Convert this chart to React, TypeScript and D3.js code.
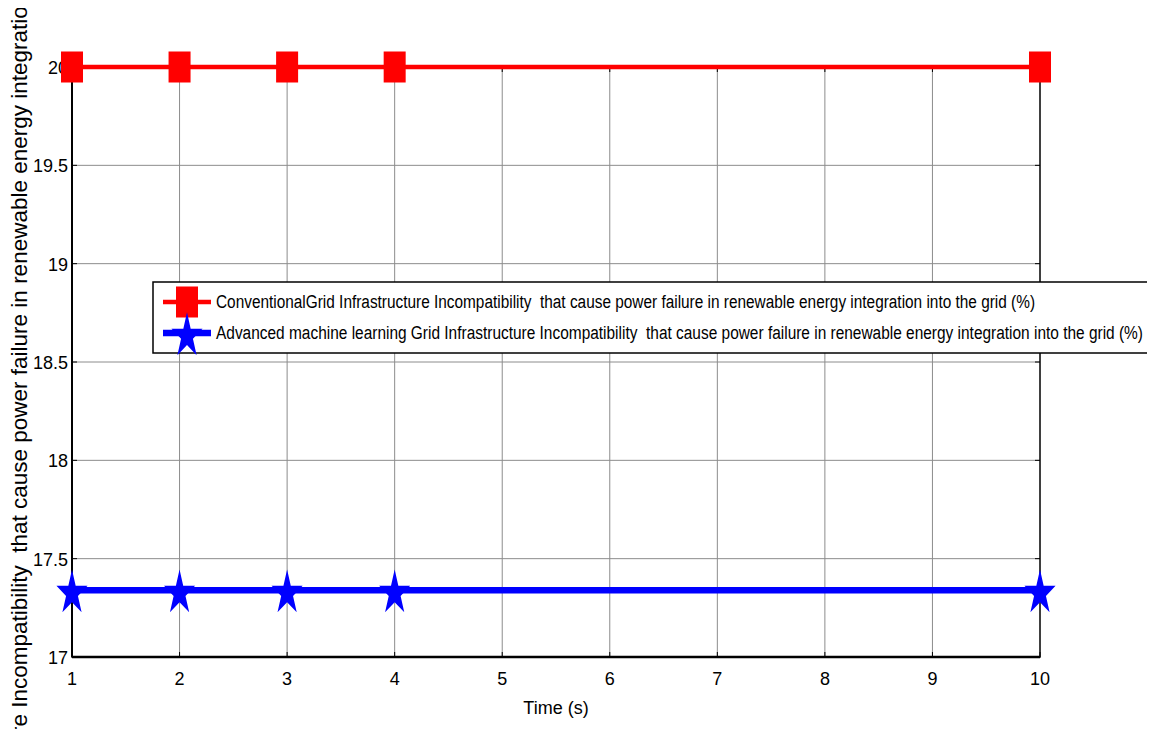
import React, { useEffect, useRef } from "react";
import * as d3 from "d3";

const xTimes = [1, 2, 3, 4, 10];
const conventional = [20, 20, 20, 20, 20];
const advanced = [17.34, 17.34, 17.34, 17.34, 17.34];
const xTicks = [1, 2, 3, 4, 5, 6, 7, 8, 9, 10];
const yTicks = [17, 17.5, 18, 18.5, 19, 19.5, 20];

const legendLabels = [
  "ConventionalGrid Infrastructure Incompatibility  that cause power failure in renewable energy integration into the grid (%)",
  "Advanced machine learning Grid Infrastructure Incompatibility  that cause power failure in renewable energy integration into the grid (%)",
];
const yLabel =
  "Grid Infrastructure Incompatibility  that cause power failure in renewable energy integration into the grid (%)";

const W = 1155;
const H = 737;
const narrow = "'Liberation Sans Narrow', 'Arial Narrow', 'Liberation Sans', Arial, sans-serif";

export default function App() {
  const ref = useRef<SVGSVGElement>(null);

  useEffect(() => {
    const svg = d3.select(ref.current);
    svg.selectAll("*").remove();

    const left = 72, right = 1040, top = 67, bottom = 657;
    const x = d3.scaleLinear().domain([1, 10]).range([left, right]);
    const y = d3.scaleLinear().domain([17, 20]).range([bottom, top]);

    // grid
    const grid = svg.append("g").attr("stroke", "#8c8c8c").attr("stroke-width", 1);
    xTicks.slice(1, -1).forEach((t) => {
      grid.append("line").attr("x1", x(t)).attr("x2", x(t)).attr("y1", top).attr("y2", bottom);
    });
    yTicks.slice(1, -1).forEach((t) => {
      grid.append("line").attr("x1", left).attr("x2", right).attr("y1", y(t)).attr("y2", y(t));
    });

    // axes box
    svg.append("rect")
      .attr("x", left).attr("y", top)
      .attr("width", right - left).attr("height", bottom - top)
      .attr("fill", "none").attr("stroke", "#000").attr("stroke-width", 1.5);
    svg.append("line").attr("x1", left).attr("x2", right).attr("y1", bottom).attr("y2", bottom)
      .attr("stroke", "#000").attr("stroke-width", 2.5);
    svg.append("line").attr("x1", left).attr("x2", left).attr("y1", top).attr("y2", bottom)
      .attr("stroke", "#000").attr("stroke-width", 2);

    // small inner ticks
    const tk = svg.append("g").attr("stroke", "#000").attr("stroke-width", 1);
    xTicks.forEach((t) => {
      tk.append("line").attr("x1", x(t)).attr("x2", x(t)).attr("y1", bottom).attr("y2", bottom - 5);
      tk.append("line").attr("x1", x(t)).attr("x2", x(t)).attr("y1", top).attr("y2", top + 5);
    });
    yTicks.forEach((t) => {
      tk.append("line").attr("x1", left).attr("x2", left + 5).attr("y1", y(t)).attr("y2", y(t));
      tk.append("line").attr("x1", right).attr("x2", right - 5).attr("y1", y(t)).attr("y2", y(t));
    });

    // tick labels
    svg.append("g").selectAll("text").data(xTicks).enter().append("text")
      .attr("x", (d) => x(d)).attr("y", bottom + 28)
      .attr("text-anchor", "middle")
      .style("font-family", narrow).style("font-size", "18px")
      .text((d) => String(d));
    svg.append("g").selectAll("text").data(yTicks).enter().append("text")
      .attr("x", left - 4).attr("y", (d) => y(d) + 7)
      .attr("text-anchor", "end")
      .style("font-family", narrow).style("font-size", "18px")
      .text((d) => String(d));

    // axis labels
    svg.append("text")
      .attr("x", (left + right) / 2).attr("y", bottom + 57)
      .attr("text-anchor", "middle")
      .style("font-family", narrow).style("font-size", "18px")
      .text("Time (s)");
    svg.append("text")
      .attr("transform", `translate(27,${(top + bottom) / 2})rotate(-90)`)
      .attr("text-anchor", "middle")
      .style("font-family", "'Liberation Sans', Arial, sans-serif").style("font-size", "22.5px")
      .style("white-space", "pre")
      .text(yLabel);

    const line = d3.line<number>().x((_, i) => x(xTimes[i])).y((d) => y(d));
    const star = d3.symbol().type(d3.symbolStar).size(300);

    // red series
    svg.append("path").datum(conventional).attr("d", line)
      .attr("fill", "none").attr("stroke", "#ff0000").attr("stroke-width", 4.5);
    svg.append("g").selectAll("rect").data(conventional).enter().append("rect")
      .attr("x", (_, i) => x(xTimes[i]) - 11).attr("y", (d) => y(d) - 15.5)
      .attr("width", 22).attr("height", 31).attr("fill", "#ff0000");

    // blue series
    svg.append("path").datum(advanced).attr("d", line)
      .attr("fill", "none").attr("stroke", "#0000ff").attr("stroke-width", 6.5);
    svg.append("g").selectAll("path").data(advanced).enter().append("path")
      .attr("d", star()!)
      .attr("transform", (d, i) => `translate(${x(xTimes[i])},${y(d) + 3})scale(1,1.45)`)
      .attr("fill", "#0000ff");

    // legend
    const lg = svg.append("g");
    lg.append("rect").attr("x", 153).attr("y", 282).attr("width", 1000).attr("height", 71)
      .attr("fill", "#fff").attr("stroke", "#000").attr("stroke-width", 1.5);
    const rows = [302, 333];
    const widths = [819, 927];
    // red entry
    lg.append("line").attr("x1", 163).attr("x2", 211).attr("y1", rows[0]).attr("y2", rows[0])
      .attr("stroke", "#ff0000").attr("stroke-width", 4.5);
    lg.append("rect").attr("x", 176).attr("y", rows[0] - 15.5).attr("width", 22).attr("height", 31)
      .attr("fill", "#ff0000");
    // blue entry
    lg.append("line").attr("x1", 163).attr("x2", 211).attr("y1", rows[1]).attr("y2", rows[1])
      .attr("stroke", "#0000ff").attr("stroke-width", 6.5);
    lg.append("path").attr("d", star()!)
      .attr("transform", `translate(187,${rows[1] + 3})scale(1,1.45)`)
      .attr("fill", "#0000ff");
    legendLabels.forEach((t, i) => {
      lg.append("text").attr("x", 216).attr("y", rows[i] + 6)
        .attr("textLength", widths[i]).attr("lengthAdjust", "spacingAndGlyphs")
        .style("font-family", narrow).style("font-size", "18px")
        .style("white-space", "pre")
        .text(t);
    });
  }, []);

  return (
    <div style={{ margin: -8 }}>
      <svg ref={ref} width={W} height={H} style={{ display: "block", background: "#fff" }} />
    </div>
  );
}
